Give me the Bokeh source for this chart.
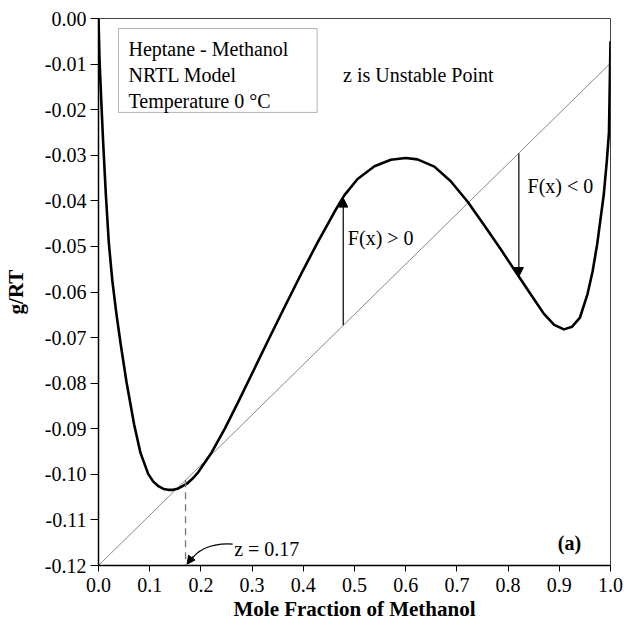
from bokeh.plotting import figure
from bokeh.models import (Range1d, FixedTicker, BoxAnnotation, Label, Arrow, NormalHead)
from bokeh.embed import file_html
from bokeh.resources import INLINE

# --- data ---
x_curve = [0.0, 0.002, 0.005, 0.009, 0.0143, 0.020, 0.027, 0.035, 0.043, 0.0546,
           0.0695, 0.082, 0.097, 0.107, 0.117, 0.127, 0.136, 0.146, 0.156, 0.172,
           0.185, 0.195, 0.221, 0.247, 0.273, 0.299, 0.331, 0.363, 0.396, 0.428,
           0.461, 0.480, 0.506, 0.539, 0.571, 0.600, 0.623, 0.656, 0.688, 0.721,
           0.753, 0.786, 0.818, 0.850, 0.870, 0.890, 0.909, 0.925, 0.940, 0.955,
           0.965, 0.974, 0.987, 0.993, 0.997, 1.0]
g_rt = [0.0, -0.0090, -0.0170, -0.0270, -0.0385, -0.0490, -0.0575, -0.0648, -0.0712, -0.0797,
        -0.0890, -0.0953, -0.0999, -0.1016, -0.1026, -0.1032, -0.1034, -0.1034, -0.1031, -0.1021,
        -0.1008, -0.0995, -0.0952, -0.0899, -0.0841, -0.0781, -0.0707, -0.0634, -0.0560, -0.0491,
        -0.0424, -0.0388, -0.0352, -0.0324, -0.0310, -0.0306, -0.0309, -0.0325, -0.0357, -0.0402,
        -0.0453, -0.0507, -0.0561, -0.0615, -0.0648, -0.0672, -0.0682, -0.0676, -0.0657, -0.0605,
        -0.0555, -0.0495, -0.0385, -0.0310, -0.0250, -0.0050]
x_tangent = [0.0, 1.0]
y_tangent = [-0.12, -0.0098]
z_point = 0.17
z_value = -0.1013
arrow_x = [0.478, 0.821]
arrow_line_y = [-0.0673, -0.0296]
arrow_curve_y = [-0.0394, -0.0566]
x_ticks = [0.0, 0.1, 0.2, 0.3, 0.4, 0.5, 0.6, 0.7, 0.8, 0.9, 1.0]
x_tick_labels = ["0.0", "0.1", "0.2", "0.3", "0.4", "0.5", "0.6", "0.7", "0.8", "0.9", "1.0"]
y_ticks = [0.0, -0.01, -0.02, -0.03, -0.04, -0.05, -0.06, -0.07, -0.08, -0.09, -0.10, -0.11, -0.12]
y_tick_labels = ["0.00", "-0.01", "-0.02", "-0.03", "-0.04", "-0.05", "-0.06", "-0.07",
                 "-0.08", "-0.09", "-0.10", "-0.11", "-0.12"]
legend_lines = ["Heptane - Methanol", "NRTL Model", "Temperature 0 \u00b0C"]

FONT = "Liberation Serif"

p = figure(width=624, height=627, output_backend="svg", toolbar_location=None,
           x_range=Range1d(0, 1.0), y_range=Range1d(-0.12, 0.0),
           min_border_left=97, min_border_right=14, min_border_top=18, min_border_bottom=62)
p.background_fill_color = "white"
p.border_fill_color = "white"
p.outline_line_color = "#444444"
p.outline_line_width = 1
p.grid.visible = False

for ax in (p.xaxis[0], p.yaxis[0]):
    ax.axis_line_color = "black"
    ax.axis_line_width = 1.5
    ax.major_tick_line_color = "black"
    ax.major_tick_in = 0
    ax.minor_tick_line_color = None
    ax.major_label_text_font = FONT
    ax.major_label_text_font_size = "20px"
    ax.major_label_text_color = "black"
    ax.axis_label_text_font = FONT
    ax.axis_label_text_font_style = "bold"
    ax.axis_label_text_font_size = "21px"
    ax.axis_label_text_color = "black"

p.xaxis.ticker = FixedTicker(ticks=x_ticks)
p.xaxis.major_label_overrides = dict(zip(x_ticks, x_tick_labels))
p.xaxis.major_tick_out = 6
p.xaxis.major_label_standoff = 6
p.xaxis.axis_label = "Mole Fraction of Methanol"
p.xaxis.axis_label_standoff = 2

p.yaxis.ticker = FixedTicker(ticks=y_ticks)
p.yaxis.major_label_overrides = dict(zip(y_ticks, y_tick_labels))
p.yaxis.major_tick_out = 8
p.yaxis.major_label_standoff = 4
p.yaxis.axis_label = "g/RT"
p.yaxis.axis_label_standoff = 14

# tangent (straight) line
p.line(x_tangent, y_tangent, line_color="#888888", line_width=1)
# g/RT curve
p.line(x_curve, g_rt, line_color="black", line_width=2.6, line_join="round")

# dashed line at z
p.segment(x0=[z_point], y0=[z_value], x1=[z_point], y1=[-0.12],
          line_color="#777777", line_width=1.3, line_dash="7 5")

# F(x) arrows
for xa, y0, y1 in zip(arrow_x, arrow_line_y, arrow_curve_y):
    p.add_layout(Arrow(x_start=xa, y_start=y0, x_end=xa, y_end=y1,
                       line_color="black", line_width=1.2,
                       end=NormalHead(size=9, fill_color="black", line_color="black", line_width=1)))

# curved pointer for z = 0.17
p.bezier(x0=[0.262], y0=[-0.1153], x1=[0.180], y1=[-0.1190],
         cx0=[0.215], cy0=[-0.1150], cx1=[0.190], cy1=[-0.1170],
         line_color="black", line_width=1.2)
p.add_layout(Arrow(x_start=0.184, y_start=-0.1180, x_end=0.173, y_end=-0.1197,
                   line_color="black", line_width=1,
                   end=NormalHead(size=8, fill_color="black", line_color="black", line_width=1)))

# legend-like box
p.add_layout(BoxAnnotation(left=0.039, right=0.427, top=-0.0022, bottom=-0.0206,
                           fill_color="white", fill_alpha=1.0,
                           line_color="black", line_width=1))
for txt, yb in zip(legend_lines, [-0.0066, -0.0125, -0.0182]):
    p.add_layout(Label(x=0.0585, y=yb, text=txt, text_font=FONT, text_font_size="20px",
                       text_color="black", text_baseline="alphabetic"))

def lab(x, y, t, bold=False, size="20px"):
    p.add_layout(Label(x=x, y=y, text=t, text_font=FONT, text_font_size=size,
                       text_color="black", text_baseline="alphabetic",
                       text_font_style="bold" if bold else "normal"))

lab(0.4776, -0.0125, "z is Unstable Point")
lab(0.487, -0.0482, "F(x) > 0")
lab(0.838, -0.0368, "F(x) < 0")
lab(0.897, -0.1151, "(a)", bold=True)
lab(0.265, -0.1164, "z = 0.17")

open("out.html", "w").write(file_html(p, INLINE))
